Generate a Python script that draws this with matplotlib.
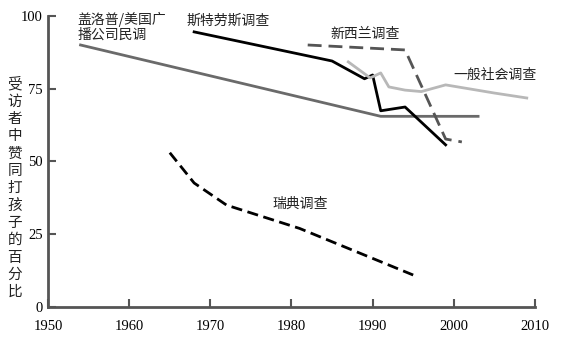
import matplotlib
matplotlib.use('Agg')
from matplotlib import pyplot as plt

plt.rcParams['font.family'] = ['Noto Sans CJK SC', 'DejaVu Sans']

# 盖洛普/美国广播公司民调
gallup_x = [1954, 1991, 2003]
gallup_y = [90, 65.5, 65.5]
# 斯特劳斯调查
straus_x = [1968, 1985, 1989, 1990, 1991, 1994, 1999]
straus_y = [94.5, 84.5, 78.4, 79.7, 67.4, 68.7, 55.7]
# 新西兰调查
nz_x = [1982, 1994, 1999, 2001]
nz_y = [90, 88.3, 57.7, 56.7]
# 一般社会调查
gss_x = [1987, 1989.7, 1991, 1992, 1994, 1996, 1999, 2005, 2009]
gss_y = [84.2, 78.7, 80.4, 75.6, 74.5, 74, 76.3, 73.5, 71.8]
# 瑞典调查
sweden_x = [1965, 1968, 1972, 1981, 1995]
sweden_y = [53, 42.6, 35, 27, 11]

xticks = [1950, 1960, 1970, 1980, 1990, 2000, 2010]
yticks = [0, 25, 50, 75, 100]

fig = plt.figure(figsize=(5.66, 3.45), dpi=100)
ax = fig.add_axes([0.085, 0.11, 0.86, 0.844])

ax.plot(gallup_x, gallup_y, color='#6a6a6a', lw=2)
ax.plot(straus_x, straus_y, color='black', lw=2)
ax.plot(nz_x, nz_y, color='#555555', lw=2, dashes=(5, 2.5))
ax.plot(gss_x, gss_y, color='#b8b8b8', lw=2)
ax.plot(sweden_x, sweden_y, color='black', lw=2, dashes=(4, 2))

ax.set_xlim(1950, 2010)
ax.set_ylim(0, 100)
ax.set_xticks(xticks)
ax.set_yticks(yticks)
for s in ['top', 'right']:
    ax.spines[s].set_visible(False)
for s in ['left', 'bottom']:
    ax.spines[s].set_color('#555555')
    ax.spines[s].set_linewidth(2)
ax.tick_params(direction='in', length=6, width=1.5, color='#555555', labelsize=10.5)
ax.tick_params(axis='x', pad=9)
ax.tick_params(axis='y', pad=4)
for lab in ax.get_xticklabels() + ax.get_yticklabels():
    lab.set_family('Liberation Serif')

lbl = dict(fontsize=10, color='#222222')
ax.text(1953.6, 101.5, '盖洛普/美国广\n播公司民调', va='top', ha='left', linespacing=1.1, **lbl)
ax.text(1967, 100.8, '斯特劳斯调查', va='top', ha='left', **lbl)
ax.text(1984.8, 96.2, '新西兰调查', va='top', ha='left', **lbl)
ax.text(2000, 82, '一般社会调查', va='top', ha='left', **lbl)
ax.text(1977.6, 38, '瑞典调查', va='top', ha='left', **lbl)

fig.text(0.026, 0.455, '\n'.join('受访者中赞同打孩子的百分比'), ha='center', va='center',
         fontsize=10.5, linespacing=1.3, color='#222222')

fig.savefig('out.png', dpi=100)
